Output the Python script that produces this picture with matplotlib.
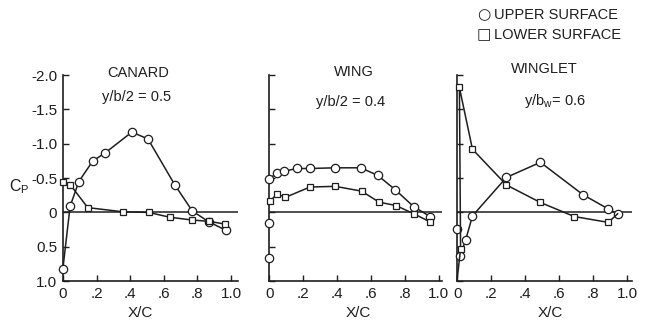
import matplotlib
matplotlib.use('Agg')
import matplotlib.pyplot as plt

plt.rcParams['font.family'] = ['Liberation Sans', 'DejaVu Sans']

# canard, y/b/2 = 0.5
canard_up_x = [0.0, 0.043, 0.095, 0.178, 0.253, 0.41, 0.506, 0.666, 0.77, 0.87, 0.97]
canard_up_cp = [0.82, -0.09, -0.45, -0.75, -0.87, -1.17, -1.07, -0.40, -0.02, 0.14, 0.26]
canard_lo_x = [0.0, 0.045, 0.148, 0.355, 0.51, 0.636, 0.767, 0.87, 0.965]
canard_lo_cp = [-0.44, -0.40, -0.07, -0.01, 0.0, 0.07, 0.11, 0.13, 0.17]

# wing, y/b/2 = 0.4
wing_up_x = [0.0, 0.045, 0.087, 0.163, 0.24, 0.39, 0.54, 0.64, 0.744, 0.854, 0.95]
wing_up_cp = [-0.49, -0.57, -0.60, -0.64, -0.64, -0.65, -0.65, -0.54, -0.33, -0.08, 0.06]
wing_up_extra_x = [0.0, 0.0]
wing_up_extra_cp = [0.16, 0.66]
wing_lo_x = [0.005, 0.045, 0.096, 0.24, 0.39, 0.545, 0.648, 0.748, 0.854, 0.95]
wing_lo_cp = [-0.16, -0.27, -0.22, -0.37, -0.38, -0.31, -0.15, -0.10, 0.02, 0.14]

# winglet, y/bw = 0.6
winglet_up_x = [0.017, 0.05, 0.09, 0.29, 0.49, 0.74, 0.89, 0.945]
winglet_up_cp = [0.63, 0.40, 0.05, -0.51, -0.73, -0.26, -0.05, 0.02]
winglet_up_extra_x = [0.0]
winglet_up_extra_cp = [0.24]
winglet_lo_x = [0.0, 0.02, 0.013, 0.09, 0.29, 0.49, 0.69, 0.89, 0.945]
winglet_lo_cp = [0.97, 0.53, -1.82, -0.92, -0.40, -0.145, 0.06, 0.145, 0.02]

xticks = [0, 0.2, 0.4, 0.6, 0.8, 1.0]
xticklabels = ['0', '.2', '.4', '.6', '.8', '1.0']
yticks = [-2.0, -1.5, -1.0, -0.5, 0, 0.5, 1.0]
yticklabels = ['-2.0', '-1.5', '-1.0', '-0.5', '0', '0.5', '1.0']

ink = '#1e1e1e'
fs = 10.5
fig = plt.figure(figsize=(6.55, 3.28), dpi=100)

boxes = [[0.096, 0.143, 0.267, 0.628],
         [0.411, 0.143, 0.264, 0.628],
         [0.698, 0.143, 0.267, 0.628]]
xmax = [1.04, 1.02, 1.03]
axs = [fig.add_axes(b) for b in boxes]

up = dict(color=ink, lw=1.1, marker='o', ms=6.0, mfc='white', mec=ink, mew=0.9, clip_on=False)
lo = dict(color=ink, lw=1.1, marker='s', ms=5.0, mfc='white', mec=ink, mew=0.9, clip_on=False)
up_pts = {k: v for k, v in up.items() if k != 'lw'}

def style(ax, xm, labels):
    ax.set_xlim(0, xm)
    ax.set_ylim(1.0, -2.0)
    ax.axhline(0, color=ink, lw=1.1, zorder=1)
    for s in ['top', 'right']:
        ax.spines[s].set_visible(False)
    for s in ['left', 'bottom']:
        ax.spines[s].set_linewidth(1.2)
        ax.spines[s].set_color(ink)
    ax.set_xticks(xticks)
    ax.set_xticklabels(xticklabels)
    ax.set_yticks(yticks)
    if labels:
        ax.set_yticklabels(yticklabels)
    else:
        ax.set_yticklabels([])
    ax.tick_params(direction='in', length=4, width=1.0, colors=ink, labelsize=11, pad=4)
    ax.patch.set_alpha(0)

ax = axs[0]
style(ax, xmax[0], True)
ax.plot(canard_up_x, canard_up_cp, zorder=3, **up)
ax.plot(canard_lo_x, canard_lo_cp, zorder=3, **lo)

ax = axs[1]
style(ax, xmax[1], False)
ax.plot(wing_up_x, wing_up_cp, zorder=3, **up)
ax.plot(wing_up_extra_x, wing_up_extra_cp, ls='none', zorder=3, **up_pts)
ax.plot(wing_lo_x, wing_lo_cp, zorder=3, **lo)

ax = axs[2]
style(ax, xmax[2], False)
ax.plot(winglet_up_x, winglet_up_cp, zorder=3, **up)
ax.plot(winglet_up_extra_x, winglet_up_extra_cp, ls='none', zorder=3, **up_pts)
ax.plot(winglet_lo_x, winglet_lo_cp, zorder=3, markevery=list(range(1, len(winglet_lo_x) - 1)), **lo)

def px(x, y):
    return x / 655, 1 - y / 328

tk = dict(color=ink, fontsize=fs, ha='center', va='center')
fig.text(*px(138, 73), 'CANARD', **tk)
fig.text(*px(137, 97), 'y/b/2 = 0.5', **tk)
fig.text(*px(354, 72), 'WING', **tk)
fig.text(*px(351, 102), 'y/b/2 = 0.4', **tk)
fig.text(*px(544, 69), 'WINGLET', **tk)
fig.text(*px(555, 101), r'y/b$_\mathregular{w}$= 0.6', **tk)
for xc in [140, 358, 550]:
    fig.text(*px(xc, 313), 'X/C', fontsize=11, color=ink, ha='center', va='center')
fig.text(*px(19, 187), r'C$_\mathregular{P}$', fontsize=11.5, color=ink, ha='center', va='center')

fig.text(*px(484, 15), '\u25cb', color=ink, fontsize=11, ha='center', va='center', family='DejaVu Sans')
fig.text(*px(484, 35), '\u25a1', color=ink, fontsize=11, ha='center', va='center', family='DejaVu Sans')
fig.text(*px(494, 15), 'UPPER SURFACE', color=ink, fontsize=fs, ha='left', va='center')
fig.text(*px(494, 35), 'LOWER SURFACE', color=ink, fontsize=fs, ha='left', va='center')

fig.savefig('out.png', dpi=100)
